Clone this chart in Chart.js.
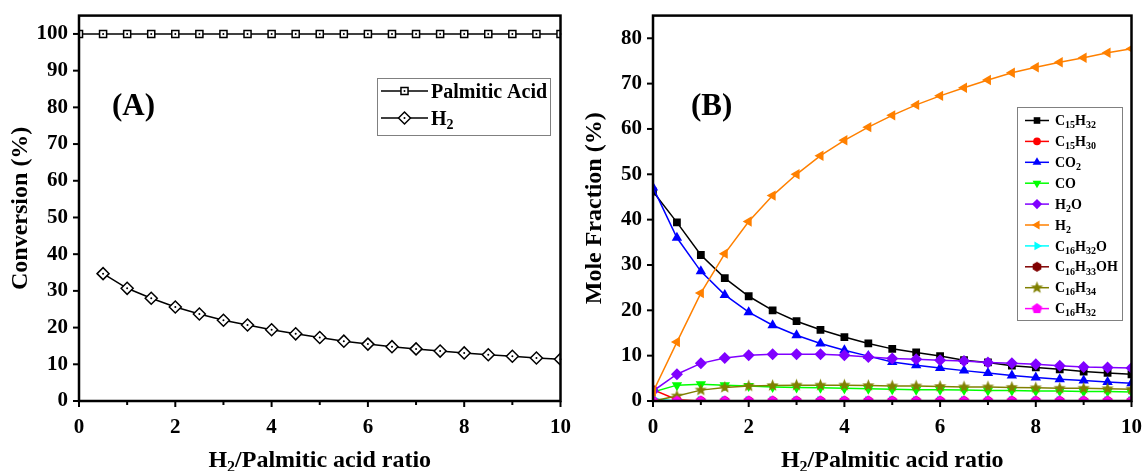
<!DOCTYPE html>
<html>
<head>
<meta charset="utf-8">
<script src="https://cdn.jsdelivr.net/npm/chart.js@4/dist/chart.umd.min.js"></script>
<style>
  html, body { margin: 0; padding: 0; background: #fff; overflow: hidden; }
  #wrap { position: relative; width: 1143px; height: 471px; overflow: hidden; }
  .panel { position: absolute; top: 0; height: 471px; }
  #left { left: 0; width: 577px; }
  #right { left: 572px; width: 576px; }
</style>
</head>
<body>
<div id="wrap">
  <div class="panel" id="left"><canvas id="conv-chart"></canvas></div>
  <div class="panel" id="right"><canvas id="mole-chart"></canvas></div>
</div>
<script>
// === 1. Data ===

// H2 / palmitic acid ratio, shared x values
const ratio = [0, 0.5, 1, 1.5, 2, 2.5, 3, 3.5, 4, 4.5, 5, 5.5, 6, 6.5, 7, 7.5, 8, 8.5, 9, 9.5, 10];
const ratioNoZero = [0.5, 1, 1.5, 2, 2.5, 3, 3.5, 4, 4.5, 5, 5.5, 6, 6.5, 7, 7.5, 8, 8.5, 9, 9.5, 10];

// (A) conversion, %
const palmiticConv = [100, 100, 100, 100, 100, 100, 100, 100, 100, 100, 100, 100, 100, 100, 100, 100, 100, 100, 100, 100, 100];
const h2Conv = [34.7, 30.7, 28.0, 25.6, 23.7, 22.0, 20.7, 19.4, 18.3, 17.3, 16.3, 15.5, 14.8, 14.2, 13.6, 13.1, 12.6, 12.2, 11.7, 11.4];

// (B) mole fraction, %
const c15h32 = [46.2, 39.4, 32.2, 27.1, 23.1, 20.0, 17.6, 15.7, 14.1, 12.7, 11.5, 10.7, 9.9, 9.0, 8.5, 7.8, 7.4, 7.0, 6.5, 6.2, 5.9];
const c15h30 = [2.5, 0.3, 0, 0, 0, 0, 0, 0, 0, 0, 0, 0, 0, 0, 0, 0, 0, 0, 0, 0, 0];
const co2 = [47.1, 36.0, 28.6, 23.4, 19.6, 16.7, 14.5, 12.7, 11.2, 9.9, 8.6, 7.9, 7.3, 6.7, 6.2, 5.6, 5.2, 4.8, 4.5, 4.2, 3.9];
const co = [2.0, 3.5, 3.7, 3.5, 3.3, 3.1, 3.0, 2.9, 2.8, 2.7, 2.6, 2.5, 2.5, 2.4, 2.3, 2.3, 2.2, 2.2, 2.1, 2.1, 2.0];
const h2o = [2.2, 5.9, 8.3, 9.5, 10.1, 10.3, 10.3, 10.3, 10.1, 9.7, 9.4, 9.2, 9.0, 8.8, 8.5, 8.3, 8.1, 7.8, 7.5, 7.4, 7.3];
const h2 = [2.0, 13.0, 23.8, 32.5, 39.6, 45.3, 50.0, 54.1, 57.5, 60.4, 63.0, 65.3, 67.3, 69.1, 70.8, 72.4, 73.6, 74.7, 75.7, 76.8, 77.7];
const c16h32o = [0.5, 0, 0, 0, 0, 0, 0, 0, 0, 0, 0, 0, 0, 0, 0, 0, 0, 0, 0, 0, 0];
const c16h33oh = [0, 0, 0, 0, 0, 0, 0, 0, 0, 0, 0, 0, 0, 0, 0, 0, 0, 0, 0, 0, 0];
const c16h34 = [0, 1.1, 2.4, 3.0, 3.3, 3.4, 3.5, 3.5, 3.5, 3.4, 3.3, 3.3, 3.2, 3.1, 3.1, 3.0, 2.9, 2.8, 2.8, 2.7, 2.6];
const c16h32 = [0, 0, 0, 0, 0, 0, 0, 0, 0, 0, 0, 0, 0, 0, 0, 0, 0, 0, 0, 0, 0];

const convLabels = ['Palmitic Acid', 'H2'];
const moleLabels = ['C15H32', 'C15H30', 'CO2', 'CO', 'H2O', 'H2', 'C16H32O', 'C16H33OH', 'C16H34', 'C16H32'];
const xTitle = 'H2/Palmitic acid ratio';

// === 2. Helpers ===

const FONT = "'Liberation Serif', 'Times New Roman', serif";
const pairs = (xs, ys) => xs.map((x, i) => ({ x, y: ys[i] }));

// filled marker glyphs that Chart.js has no style for
function shape(kind, color, r) {
  const c = document.createElement('canvas');
  const s = Math.ceil(r * 2 + 2);
  c.width = c.height = s;
  const g = c.getContext('2d');
  g.translate(s / 2, s / 2);
  g.fillStyle = color;
  g.beginPath();
  const n = kind === 'hexagon' ? 6 : 5;
  const steps = kind === 'star' ? 10 : n;
  for (let i = 0; i < steps; i++) {
    const a = -Math.PI / 2 + i * 2 * Math.PI / steps;
    const rr = kind === 'star' && i % 2 ? r * 0.42 : r;
    const px = Math.cos(a) * rr, py = Math.sin(a) * rr;
    i ? g.lineTo(px, py) : g.moveTo(px, py);
  }
  g.closePath();
  g.fill();
  return c;
}

// text where digits after a letter become subscripts (C15H32, H2O ...)
function richRuns(text) {
  const runs = [];
  const re = /([A-Za-z)])(\d+)/g;
  let last = 0, m;
  while ((m = re.exec(text))) {
    runs.push({ t: text.slice(last, m.index + 1), sub: false });
    runs.push({ t: m[2], sub: true });
    last = m.index + m[0].length;
  }
  if (last < text.length) runs.push({ t: text.slice(last), sub: false });
  return runs;
}

function drawRich(ctx, text, x, y, size, align) {
  const runs = richRuns(text);
  const main = `bold ${size}px ${FONT}`;
  const small = `bold ${Math.round(size * 0.68)}px ${FONT}`;
  let w = 0;
  runs.forEach(r => { ctx.font = r.sub ? small : main; r.w = ctx.measureText(r.t).width; w += r.w; });
  let cx = align === 'center' ? x - w / 2 : x;
  ctx.textAlign = 'left';
  ctx.textBaseline = 'alphabetic';
  ctx.fillStyle = '#000';
  runs.forEach(r => {
    ctx.font = r.sub ? small : main;
    ctx.fillText(r.t, cx, r.sub ? y + size * 0.22 : y);
    cx += r.w;
  });
}

// frame, outside ticks (major + minor), panel letter, legend, x title
function decor(cfg) {
  return {
    id: 'decor',
    afterDraw(chart) {
      const { ctx, chartArea: a, scales } = chart;
      ctx.save();
      ctx.strokeStyle = '#000';
      ctx.lineWidth = 2;
      scales.x.ticks.forEach(t => {
        const px = scales.x.getPixelForValue(t.value);
        const len = t.value % 2 === 0 ? 6 : 4;
        ctx.beginPath(); ctx.moveTo(px, a.bottom); ctx.lineTo(px, a.bottom + len); ctx.stroke();
      });
      scales.y.ticks.forEach(t => {
        const py = scales.y.getPixelForValue(t.value);
        const len = t.value % 10 === 0 ? 6 : 4;
        ctx.beginPath(); ctx.moveTo(a.left, py); ctx.lineTo(a.left - len, py); ctx.stroke();
      });
      ctx.lineWidth = 2.5;
      ctx.strokeRect(a.left, a.top, a.right - a.left, a.bottom - a.top);

      // panel letter
      ctx.fillStyle = '#000';
      ctx.font = `bold 31px ${FONT}`;
      ctx.textAlign = 'left';
      ctx.textBaseline = 'alphabetic';
      ctx.fillText(cfg.letter, a.left + cfg.letterDx, a.top + 99);

      // x axis title
      drawRich(ctx, xTitle, (a.left + a.right) / 2, 467, 24, 'center');

      // legend
      const L = cfg.legend;
      ctx.lineWidth = 1;
      ctx.strokeStyle = '#808080';
      ctx.strokeRect(L.x + 0.5, L.y + 0.5, L.w, L.h);
      chart.data.datasets.forEach((ds, i) => {
        const y = L.row0 + i * L.step;
        ctx.strokeStyle = ds.borderColor;
        ctx.lineWidth = ds.borderWidth;
        ctx.beginPath(); ctx.moveTo(L.lineX0, y); ctx.lineTo(L.lineX1, y); ctx.stroke();
        ctx.fillStyle = ds.pointBackgroundColor;
        ctx.strokeStyle = ds.pointBorderColor;
        Chart.helpers.drawPoint(ctx, {
          pointStyle: ds.pointStyle, radius: ds.pointRadius * L.scale,
          rotation: ds.pointRotation || 0, borderWidth: ds.pointBorderWidth
        }, (L.lineX0 + L.lineX1) / 2, y);
        if (cfg.dots) {
          ctx.fillStyle = '#000';
          ctx.beginPath(); ctx.arc((L.lineX0 + L.lineX1) / 2, y, 1, 0, Math.PI * 2); ctx.fill();
        }
        drawRich(ctx, ds.label, L.textX, y + L.size * 0.33, L.size, 'left');
      });
      ctx.restore();
    },
    afterDatasetsDraw(chart) {
      if (!cfg.dots) return;
      const { ctx } = chart;
      ctx.save();
      ctx.fillStyle = '#000';
      chart.data.datasets.forEach((ds, i) => {
        chart.getDatasetMeta(i).data.forEach(p => {
          ctx.beginPath(); ctx.arc(p.x, p.y, 1, 0, Math.PI * 2); ctx.fill();
        });
      });
      ctx.restore();
    }
  };
}

function axes(yMax, yTitle) {
  const tickFont = { family: FONT, weight: 'bold', size: 21 };
  return {
    x: {
      type: 'linear', min: 0, max: 10,
      afterFit: s => { s.height = 70; },
      grid: { display: false }, border: { display: false },
      ticks: { stepSize: 1, padding: 6, color: '#000', font: tickFont, maxRotation: 0,
               callback: v => (v % 2 === 0 ? v : '') }
    },
    y: {
      min: 0, max: yMax,
      afterFit: s => { s.width = 79; },
      grid: { display: false }, border: { display: false },
      ticks: { stepSize: 5, padding: 3, color: '#000', font: tickFont,
               callback: v => (v % 10 === 0 ? v : '') },
      title: { display: true, text: yTitle, color: '#000', padding: { top: 6, bottom: 0 },
               font: { family: FONT, weight: 'bold', size: 24 } }
    }
  };
}

const common = {
  responsive: true,
  maintainAspectRatio: false,
  animation: false,
  events: [],
  plugins: { legend: { display: false }, tooltip: { enabled: false } }
};

// === 3. (A) Conversion chart ===

new Chart(document.getElementById('conv-chart'), {
  type: 'line',
  data: {
    datasets: [
      { label: convLabels[0], data: pairs(ratio, palmiticConv), borderColor: '#000', borderWidth: 1.5,
        pointStyle: 'rect', pointRadius: 5, pointBackgroundColor: '#fff', pointBorderColor: '#000', pointBorderWidth: 1.5 },
      { label: convLabels[1], data: pairs(ratioNoZero, h2Conv), borderColor: '#000', borderWidth: 1.5,
        pointStyle: 'rectRot', pointRadius: 6, pointBackgroundColor: '#fff', pointBorderColor: '#000', pointBorderWidth: 1.5 }
    ]
  },
  options: {
    ...common,
    layout: { padding: { top: 6, right: 0, left: 0, bottom: 0 } },
    scales: axes(105, 'Conversion (%)')
  },
  plugins: [decor({
    letter: '(A)', letterDx: 33, dots: true,
    legend: { x: 377, y: 78, w: 173, h: 57, row0: 91, step: 27, lineX0: 381, lineX1: 428, textX: 431, size: 20, scale: 1 }
  })]
});

// === 4. (B) Mole fraction chart ===

const moleColors = ['#000000', '#ff0000', '#0000ff', '#00ff00', '#8000ff', '#ff8000', '#00ffff', '#800000', '#808000', '#ff00ff'];
const moleValues = [c15h32, c15h30, co2, co, h2o, h2, c16h32o, c16h33oh, c16h34, c16h32];
const moleMarkers = [
  { pointStyle: 'rect', pointRadius: 5.5 },
  { pointStyle: 'circle', pointRadius: 4.5 },
  { pointStyle: 'triangle', pointRadius: 6 },
  { pointStyle: 'triangle', pointRadius: 6, pointRotation: 180 },
  { pointStyle: 'rectRot', pointRadius: 6 },
  { pointStyle: 'triangle', pointRadius: 6, pointRotation: 270 },
  { pointStyle: 'triangle', pointRadius: 6, pointRotation: 90 },
  { pointStyle: shape('hexagon', '#800000', 5), pointRadius: 5 },
  { pointStyle: shape('star', '#808000', 6.5), pointRadius: 6.5 },
  { pointStyle: shape('pentagon', '#ff00ff', 5.5), pointRadius: 5.5 }
];

new Chart(document.getElementById('mole-chart'), {
  type: 'line',
  data: {
    datasets: moleLabels.map((label, i) => ({
      label,
      data: pairs(ratio, moleValues[i]),
      borderColor: moleColors[i],
      borderWidth: 1.5,
      pointBackgroundColor: moleColors[i],
      pointBorderColor: moleColors[i],
      pointBorderWidth: 0,
      order: moleLabels.length - i,
      ...moleMarkers[i]
    }))
  },
  options: {
    ...common,
    layout: { padding: { top: 6, right: 0, left: 2, bottom: 0 } },
    scales: axes(85, 'Mole Fraction (%)')
  },
  plugins: [decor({
    letter: '(B)', letterDx: 38, dots: false,
    legend: { x: 445, y: 107, w: 105, h: 213, row0: 120.5, step: 20.9, lineX0: 453, lineX1: 477, textX: 483, size: 14, scale: 0.85 }
  })]
});
</script>
</body>
</html>
